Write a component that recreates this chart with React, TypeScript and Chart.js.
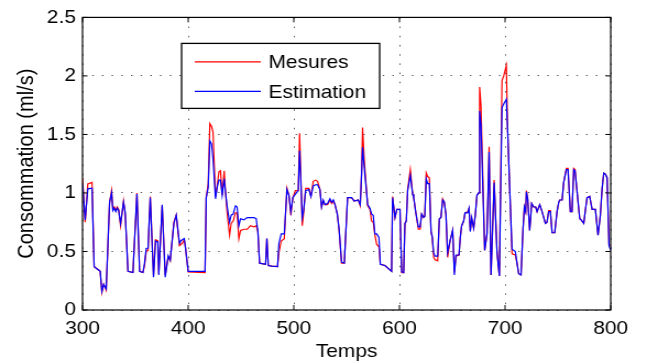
import React, { useEffect, useRef } from "react";
import { Chart, registerables } from "chart.js";

Chart.register(...registerables);

// ---- data ----
const times = [
  300, 302.5, 305, 309, 311, 315.5, 316.7, 318.3, 320, 322.4,
  325.6, 327.5, 328.7, 330, 331.5, 332.8, 334.2, 336, 338.8, 340.4,
  343, 347.7, 351.5, 354, 357.2, 358.7, 360.3, 362, 364.1, 367.2,
  369.1, 371.3, 372.2, 375.4, 378.3, 381.1, 383, 386.5, 388.7, 391.8,
  393, 394.4, 396.3, 397.5, 400, 416, 417.1, 419, 420.5, 422.1,
  423.5, 425.9, 427.5, 429.1, 430.6, 432.2, 434.1, 435.4, 437, 439.2,
  440.7, 442.6, 444.8, 446.3, 448, 449.6, 452.7, 455.9, 459, 462.2,
  464.4, 466, 467.6, 473.3, 474.5, 475.8, 479, 484.6, 485.9, 488.1,
  491, 493.5, 495.4, 497.2, 499.1, 501.5, 504.2, 505.5, 508, 509.3,
  511.2, 514.3, 516.2, 518.4, 520.6, 522.5, 524.7, 526.3, 527.9, 529.5,
  532, 534.2, 535.8, 537.4, 539, 541.2, 543, 545.2, 547.8, 550.9,
  554.7, 557.2, 561, 562.9, 564.2, 565.1, 566.7, 569.9, 572.1, 573.6,
  575.2, 576.8, 578.5, 580.6, 581.9, 586.3, 592.6, 593.5, 595.8, 597.6,
  600.5, 602.1, 604, 605.2, 606.5, 607.8, 610.3, 612.5, 613.5, 615.7,
  617.9, 619.6, 621, 622.9, 624, 625.4, 626.7, 628.3, 629.9, 631,
  632.4, 633.7, 636.2, 637.8, 639.3, 640.9, 642.5, 644.1, 645.6, 647.9,
  650.4, 652, 653.5, 656.4, 657.6, 658.9, 660.8, 662.1, 664.6, 665.9,
  667.1, 668.4, 670.3, 671.8, 673.4, 675, 675.9, 677.2, 680.7, 682.9,
  684.9, 686.7, 689.7, 692.4, 694.6, 697.1, 698.7, 701.2, 702.5, 705,
  706.6, 709.7, 711.3, 712.9, 715.1, 717, 718.3, 719.5, 720.2, 721.4,
  723.3, 725.2, 727.1, 729, 730.3, 732.8, 735, 738.2, 739.7, 741.3,
  742.9, 744.5, 747, 749.2, 750.8, 751.7, 754, 755.5, 758, 759.6,
  761.8, 763.4, 765, 766.2, 768.8, 770.7, 772, 774.5, 776, 777.6,
  780.1, 782.4, 785.5, 788, 790.2, 791.8, 793.4, 795, 796.6, 798.4,
  800,
];

const mesures = [
  1.13, 0.75, 1.077, 1.09, 0.37, 0.34, 0.33, 0.15, 0.22, 0.17,
  0.92, 1.02, 0.86, 0.88, 0.85, 0.88, 0.86, 0.72, 0.93, 0.82,
  0.33, 0.32, 1.0, 0.33, 0.32, 0.38, 0.5, 0.51, 0.97, 0.3,
  0.6, 0.59, 0.31, 0.89, 0.3, 0.45, 0.42, 0.75, 0.81, 0.55,
  0.56, 0.57, 0.6, 0.53, 0.325, 0.32, 0.96, 1.08, 1.593, 1.57,
  1.52, 0.97, 1.06, 1.18, 1.19, 0.98, 1.19, 1.0, 0.82, 0.64,
  0.74, 0.76, 0.83, 0.83, 0.61, 0.68, 0.69, 0.69, 0.72, 0.71,
  0.72, 0.67, 0.4, 0.39, 0.61, 0.38, 0.375, 0.37, 0.49, 0.59,
  0.61, 1.04, 0.98, 0.81, 0.96, 1.02, 1.02, 1.51, 0.72, 0.83,
  1.04, 1.04, 0.97, 1.1, 1.11, 1.1, 1.03, 0.88, 0.93, 0.9,
  0.9, 0.94, 0.91, 0.93, 0.9, 0.82, 0.67, 0.4, 0.4, 0.96,
  0.96, 0.93, 0.94, 0.89, 1.18, 1.56, 1.28, 0.89, 0.86, 0.76,
  0.75, 0.64, 0.56, 0.54, 0.39, 0.38, 0.33, 0.97, 0.79, 0.86,
  0.86, 0.32, 0.32, 0.74, 0.76, 1.03, 1.2, 0.99, 0.96, 0.82,
  0.69, 0.69, 0.82, 0.79, 0.8, 1.17, 1.14, 1.13, 0.67, 0.62,
  0.45, 0.43, 0.42, 0.78, 0.79, 0.95, 0.92, 0.81, 0.45, 0.59,
  0.68, 0.32, 0.46, 0.47, 0.62, 0.72, 0.76, 0.83, 0.84, 0.87,
  0.68, 0.78, 0.7, 0.81, 0.98, 1.0, 1.905, 1.75, 0.51, 0.65,
  1.395, 0.3, 1.11, 0.49, 0.29, 1.96, 2.0, 2.09, 1.52, 0.89,
  0.48, 0.47, 0.4, 0.31, 0.3, 0.69, 0.88, 0.84, 1.02, 0.95,
  0.68, 0.91, 0.88, 0.88, 0.84, 0.9, 0.84, 0.74, 0.75, 0.85,
  0.85, 0.66, 0.66, 0.84, 0.92, 0.94, 0.94, 1.09, 1.21, 1.21,
  0.84, 0.84, 1.21, 1.2, 0.95, 0.78, 0.77, 0.74, 0.85, 0.96,
  0.97, 0.86, 0.86, 0.64, 0.81, 1.03, 1.17, 1.16, 1.13, 0.56,
  0.55,
];

const estimation = [
  1.08, 0.77, 1.035, 1.04, 0.37, 0.34, 0.33, 0.16, 0.22, 0.18,
  0.92, 1.0, 0.85, 0.87, 0.84, 0.87, 0.85, 0.74, 0.92, 0.83,
  0.33, 0.32, 0.99, 0.33, 0.32, 0.4, 0.525, 0.53, 0.96, 0.28,
  0.59, 0.58, 0.3, 0.9, 0.28, 0.465, 0.425, 0.74, 0.81, 0.57,
  0.59, 0.6, 0.61, 0.53, 0.33, 0.33, 0.96, 1.05, 1.445, 1.42,
  1.29, 0.95, 1.05, 1.11, 1.11, 0.98, 1.12, 1.0, 0.88, 0.75,
  0.81, 0.82, 0.89, 0.88, 0.72, 0.78, 0.77, 0.79, 0.79, 0.79,
  0.78, 0.67, 0.4, 0.39, 0.61, 0.38, 0.375, 0.37, 0.57, 0.65,
  0.65, 1.03, 0.98, 0.84, 0.96, 0.99, 1.02, 1.36, 0.79, 0.85,
  1.02, 1.03, 0.97, 1.06, 1.07, 1.07, 1.03, 0.88, 0.94, 0.9,
  0.91, 0.95, 0.92, 0.94, 0.9, 0.82, 0.68, 0.41, 0.4, 0.96,
  0.96, 0.93, 0.94, 0.9, 1.16, 1.39, 1.22, 0.9, 0.87, 0.82,
  0.81, 0.65, 0.65, 0.62, 0.39, 0.38, 0.33, 0.96, 0.79, 0.86,
  0.86, 0.326, 0.32, 0.74, 0.76, 1.02, 1.15, 0.99, 0.96, 0.82,
  0.71, 0.71, 0.82, 0.79, 0.8, 1.12, 1.08, 1.08, 0.67, 0.63,
  0.49, 0.46, 0.46, 0.78, 0.79, 0.94, 0.92, 0.81, 0.49, 0.59,
  0.68, 0.3, 0.47, 0.47, 0.62, 0.72, 0.76, 0.83, 0.83, 0.87,
  0.67, 0.79, 0.7, 0.81, 0.98, 1.0, 1.7, 1.58, 0.51, 0.65,
  1.35, 0.3, 1.09, 0.49, 0.29, 1.73, 1.76, 1.8, 1.52, 0.89,
  0.52, 0.5, 0.4, 0.31, 0.3, 0.69, 0.88, 0.84, 1.01, 0.95,
  0.68, 0.91, 0.88, 0.88, 0.84, 0.9, 0.84, 0.74, 0.75, 0.84,
  0.84, 0.66, 0.66, 0.84, 0.92, 0.94, 0.94, 1.09, 1.2, 1.2,
  0.84, 0.84, 1.2, 1.19, 0.95, 0.78, 0.77, 0.74, 0.85, 0.96,
  0.97, 0.86, 0.86, 0.64, 0.81, 1.03, 1.17, 1.16, 1.13, 0.55,
  0.51,
];

const xTicks = [300, 400, 500, 600, 700, 800];
const yTicks = [0, 0.5, 1, 1.5, 2, 2.5];
const yTickLabels = ["0", "0.5", "1", "1.5", "2", "2.5"];
const seriesLabels = ["Mesures", "Estimation"];
const seriesColors = ["#ff0000", "#0000ff"];
const xTitle = "Temps";
const yTitle = "Consommation (ml/s)";

// ---- styling ----
const FONT = '"Liberation Sans", Arial, Helvetica, sans-serif';
const FONT_SIZE = 19;
const CANVAS_W = 598; // drawn width, shown stretched to 658
const CANVAS_H = 364;
const DISPLAY_W = 658;

const framePlugin = {
  id: "matlabFrame",
  afterDatasetsDraw(chart: any) {
    const { ctx, chartArea: a, scales } = chart;
    ctx.save();
    ctx.strokeStyle = "#000";
    ctx.lineWidth = 1.2;
    ctx.setLineDash([]);
    ctx.strokeRect(a.left, a.top, a.right - a.left, a.bottom - a.top);
    const tl = 5;
    ctx.lineWidth = 1;
    ctx.beginPath();
    xTicks.forEach((v) => {
      const px = scales.x.getPixelForValue(v);
      ctx.moveTo(px, a.bottom);
      ctx.lineTo(px, a.bottom - tl);
      ctx.moveTo(px, a.top);
      ctx.lineTo(px, a.top + tl);
    });
    yTicks.forEach((v) => {
      const py = scales.y.getPixelForValue(v);
      ctx.moveTo(a.left, py);
      ctx.lineTo(a.left + tl / 1.1, py);
      ctx.moveTo(a.right, py);
      ctx.lineTo(a.right - tl / 1.1, py);
    });
    ctx.stroke();

    // legend box
    const bx = a.left + 90;
    const by = a.top + 26;
    const bw = 180;
    const bh = 65;
    ctx.fillStyle = "#fff";
    ctx.fillRect(bx, by, bw, bh);
    ctx.strokeStyle = "#000";
    ctx.lineWidth = 1.3;
    ctx.strokeRect(bx, by, bw, bh);
    ctx.font = `${FONT_SIZE}px ${FONT}`;
    ctx.textBaseline = "middle";
    ctx.textAlign = "left";
    const rows = [by + 18.5, by + 48];
    chart.data.datasets.forEach((ds: any, i: number) => {
      const y = rows[i];
      ctx.strokeStyle = ds.borderColor;
      ctx.lineWidth = 1.2;
      ctx.beginPath();
      ctx.moveTo(bx + 12, y);
      ctx.lineTo(bx + 72, y);
      ctx.stroke();
      ctx.fillStyle = "#000";
      ctx.fillText(ds.label, bx + 79, y + 1);
    });
    ctx.restore();
  },
};

export default function App() {
  const ref = useRef<HTMLCanvasElement | null>(null);

  useEffect(() => {
    const canvas = ref.current;
    if (!canvas) return;
    const series = [mesures, estimation];
    const chart = new Chart(canvas, {
      type: "line",
      data: {
        datasets: series.map((vals, i) => ({
          label: seriesLabels[i],
          data: times.map((t, k) => ({ x: t, y: vals[k] })),
          borderColor: seriesColors[i],
          backgroundColor: seriesColors[i],
          borderWidth: 1.2,
          pointRadius: 0,
          tension: 0,
          fill: false,
          order: i === 0 ? 1 : 0,
        })),
      },
      options: {
        responsive: false,
        animation: false,
        devicePixelRatio: 1,
        layout: { padding: { left: 0, right: 43, top: 16, bottom: 0 } },
        plugins: { legend: { display: false }, tooltip: { enabled: false } },
        scales: {
          x: {
            type: "linear",
            min: 300,
            max: 800,
            afterFit: (s: any) => {
              s.height = 54;
            },
            ticks: {
              stepSize: 100,
              padding: 7,
              color: "#000",
              maxRotation: 0,
              autoSkip: false,
              font: { size: FONT_SIZE, family: FONT },
              callback: (v: any) => String(v),
            },
            grid: { color: "rgba(0,0,0,0.65)", lineWidth: 1, drawTicks: false },
            border: { display: false, dash: [1.5, 7.7] },
            title: {
              display: true,
              text: xTitle,
              color: "#000",
              font: { size: FONT_SIZE, family: FONT },
              padding: { top: 0, bottom: 1 },
            },
          },
          y: {
            type: "linear",
            min: 0,
            max: 2.5,
            afterFit: (s: any) => {
              s.width = 75;
            },
            afterBuildTicks: (s: any) => {
              s.ticks = yTicks.map((v) => ({ value: v }));
            },
            ticks: {
              padding: 6,
              color: "#000",
              font: { size: FONT_SIZE, family: FONT },
              callback: (v: any) => {
                const i = yTicks.indexOf(Number(v));
                return i >= 0 ? yTickLabels[i] : String(v);
              },
            },
            grid: { color: "rgba(0,0,0,0.65)", lineWidth: 1, drawTicks: false },
            border: { display: false, dash: [1.4, 7.4] },
            title: {
              display: true,
              text: yTitle,
              color: "#000",
              font: { size: 20, family: FONT },
              padding: { top: 12, bottom: 0 },
            },
          },
        },
      },
      plugins: [framePlugin],
    } as any);
    return () => chart.destroy();
  }, []);

  return (
    <div style={{ position: "absolute", left: 0, top: 0, width: DISPLAY_W, height: CANVAS_H, background: "#fff" }}>
      <canvas
        ref={ref}
        width={CANVAS_W}
        height={CANVAS_H}
        style={{ width: DISPLAY_W + "px", height: CANVAS_H + "px", display: "block" }}
      />
    </div>
  );
}
